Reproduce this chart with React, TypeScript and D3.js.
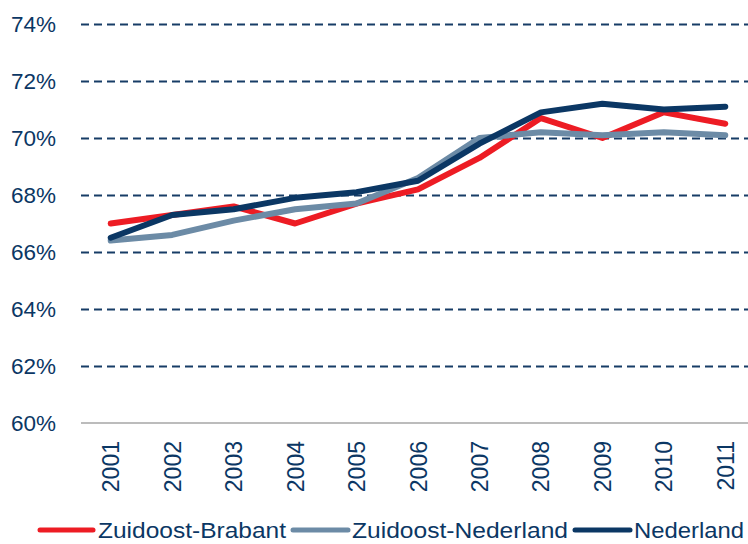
import React, { useEffect, useRef } from 'react';
import * as d3 from 'd3';

const years = ['2001', '2002', '2003', '2004', '2005', '2006', '2007', '2008', '2009', '2010', '2011'];
const brabant = [67.0, 67.3, 67.6, 67.0, 67.7, 68.2, 69.3, 70.7, 70.0, 70.9, 70.5];
const zoNederland = [66.4, 66.6, 67.1, 67.5, 67.7, 68.6, 70.0, 70.2, 70.1, 70.2, 70.1];
const nederland = [66.5, 67.3, 67.5, 67.9, 68.1, 68.5, 69.8, 70.9, 71.2, 71.0, 71.1];
const yTicks = [60, 62, 64, 66, 68, 70, 72, 74];
const seriesNames = ['Zuidoost-Brabant', 'Zuidoost-Nederland', 'Nederland'];
const seriesColors = ['#ED1C24', '#6C8BA6', '#0B3764'];

const W = 748;
const H = 544;
const textColor = '#0B3764';

const App = () => {
  const ref = useRef<SVGSVGElement>(null);

  useEffect(() => {
    const svg = d3.select(ref.current);
    svg.selectAll('*').remove();

    const x = d3.scaleBand().domain(years).range([80, 756]);
    const y = d3.scaleLinear().domain([60, 74]).range([423, 24]);
    const cx = (d: string) => (x(d) as number) + x.bandwidth() / 2;

    // grid
    svg.append('g')
      .selectAll('line')
      .data(yTicks.filter(t => t > 60))
      .enter()
      .append('line')
      .attr('x1', 81).attr('x2', W)
      .attr('y1', d => Math.round(y(d)) + 0.5).attr('y2', d => Math.round(y(d)) + 0.5)
      .attr('stroke', '#173C66')
      .attr('stroke-width', 1.8)
      .attr('stroke-dasharray', '8,5');

    svg.append('line')
      .attr('x1', 81).attr('x2', W)
      .attr('y1', y(60)).attr('y2', y(60))
      .attr('stroke', '#A6A6A6')
      .attr('stroke-width', 1.5);

    // y labels
    svg.append('g')
      .selectAll('text')
      .data(yTicks)
      .enter()
      .append('text')
      .attr('x', 56)
      .attr('y', d => y(d))
      .attr('dy', '0.36em')
      .attr('text-anchor', 'end')
      .attr('fill', textColor)
      .attr('font-size', 22.5)
      .attr('font-family', 'Liberation Sans, Arial, sans-serif')
      .text(d => d + '%');

    // x labels
    svg.append('g')
      .selectAll('text')
      .data(years)
      .enter()
      .append('text')
      .attr('transform', d => `translate(${cx(d) + 8.5},441) rotate(-90)`)
      .attr('text-anchor', 'end')
      .attr('fill', textColor)
      .attr('font-size', 23)
      .attr('font-family', 'Liberation Sans, Arial, sans-serif')
      .text(d => d);

    const line = d3.line<number>()
      .x((_, i) => cx(years[i]))
      .y(d => y(d));

    const all = [brabant, zoNederland, nederland];
    all.forEach((s, i) => {
      svg.append('path')
        .datum(s)
        .attr('d', line)
        .attr('fill', 'none')
        .attr('stroke', seriesColors[i])
        .attr('stroke-width', 6)
        .attr('stroke-linejoin', 'round')
        .attr('stroke-linecap', 'round');
    });

    // legend
    const legendItems = [
      { x0: 40, x1: 93, tx: 98, tw: 188 },
      { x0: 293, x1: 348, tx: 352, tw: 216 },
      { x0: 575, x1: 630, tx: 634, tw: 110 },
    ];
    const lg = svg.append('g');
    legendItems.forEach((it, i) => {
      lg.append('line')
        .attr('x1', it.x0).attr('x2', it.x1)
        .attr('y1', 530).attr('y2', 530)
        .attr('stroke', seriesColors[i])
        .attr('stroke-width', 5)
        .attr('stroke-linecap', 'round');
      lg.append('text')
        .attr('x', it.tx)
        .attr('y', 530)
        .attr('dy', '0.36em')
        .attr('fill', textColor)
        .attr('font-size', 22.5)
        .attr('font-family', 'Liberation Sans, Arial, sans-serif')
        .attr('textLength', it.tw)
        .attr('lengthAdjust', 'spacingAndGlyphs')
        .text(seriesNames[i]);
    });
  }, []);

  return (
    <svg
      ref={ref}
      width={W}
      height={H}
      style={{ position: 'absolute', left: 0, top: 0, background: '#fff' }}
    />
  );
};

export default App;
